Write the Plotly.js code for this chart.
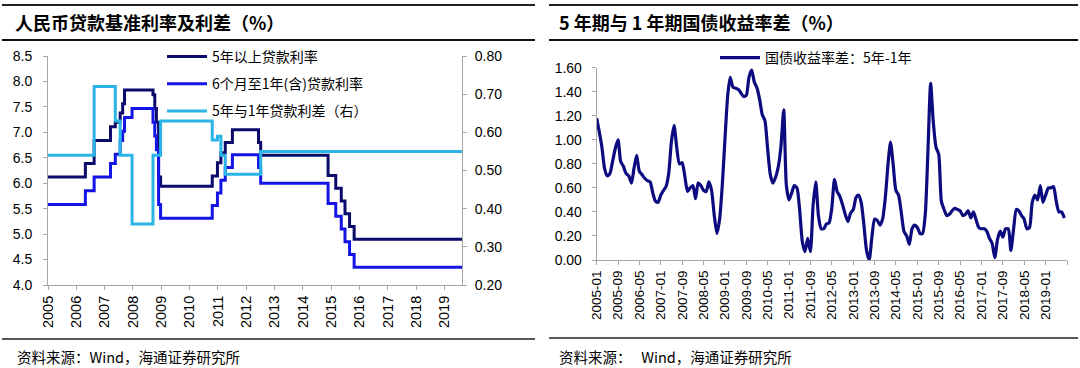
<!DOCTYPE html>
<html>
<head>
<meta charset="utf-8">
<script src="https://cdn.plot.ly/plotly-3.0.1.min.js"></script>
<style>
html,body{margin:0;padding:0;background:#fff;}
#chart{width:1080px;height:368px;}
</style>
</head>
<body>
<div id="chart"></div>
<script>
// ---------- Left chart: benchmark loan rates (step changes) ----------
const rate5yDates = ['2005-01-01','2006-04-28','2006-08-19','2007-03-18','2007-05-19','2007-07-21','2007-08-22','2007-09-15','2008-09-16','2008-10-09','2008-10-30','2008-11-27','2008-12-23','2010-10-20','2010-12-26','2011-02-09','2011-04-06','2011-07-07','2012-06-08','2012-07-06','2014-11-22','2015-03-01','2015-05-11','2015-06-28','2015-08-26','2015-10-24','2019-08-15'];
const rate5yValues = [6.12,6.39,6.84,7.11,7.20,7.38,7.56,7.83,7.74,7.47,7.20,6.12,5.94,6.14,6.40,6.60,6.80,7.05,6.80,6.55,6.15,5.90,5.65,5.40,5.15,4.90,4.90];

const rate1yDates = ['2005-01-01','2006-04-28','2006-08-19','2007-03-18','2007-05-19','2007-07-21','2007-08-22','2007-09-15','2007-12-21','2008-09-16','2008-10-09','2008-10-30','2008-11-27','2008-12-23','2010-10-20','2010-12-26','2011-02-09','2011-04-06','2011-07-07','2012-06-08','2012-07-06','2014-11-22','2015-03-01','2015-05-11','2015-06-28','2015-08-26','2015-10-24','2019-08-15'];
const rate1yValues = [5.58,5.85,6.12,6.39,6.57,6.84,7.02,7.29,7.47,7.20,6.93,6.66,5.58,5.31,5.56,5.81,6.06,6.31,6.56,6.31,6.00,5.60,5.35,5.10,4.85,4.60,4.35,4.35];

const spreadDates = ['2005-01-01','2006-08-19','2007-05-19','2007-07-21','2007-12-21','2008-09-16','2008-12-23','2010-10-20','2010-12-26','2011-02-09','2011-04-06','2012-07-06','2019-08-15'];
const spreadValues = [0.54,0.72,0.63,0.54,0.36,0.54,0.63,0.58,0.59,0.54,0.49,0.55,0.55];

const leftYears = ['2005','2006','2007','2008','2009','2010','2011','2012','2013','2014','2015','2016','2017','2018','2019'];
const leftNames = ['5年以上贷款利率','6个月至1年(含)贷款利率','5年与1年贷款利差（右）'];

// ---------- Right chart: 5Y - 1Y treasury yield spread, monthly from 2005-01 ----------
const bondStart = '2005-01';
const bondSpread = [
1.18,1.06,0.94,0.76,0.70,0.72,0.82,0.93,1.00,0.82,0.78,0.72,
0.70,0.64,0.76,0.87,0.74,0.71,0.68,0.66,0.65,0.56,0.49,0.48,
0.54,0.58,0.61,0.72,0.98,1.12,0.94,0.80,0.81,0.70,0.57,0.60,
0.62,0.51,0.64,0.62,0.58,0.57,0.65,0.58,0.37,0.22,0.34,0.62,
1.01,1.37,1.52,1.44,1.43,1.42,1.39,1.36,1.37,1.52,1.58,1.48,
1.43,1.33,1.21,1.16,0.93,0.71,0.64,0.69,0.78,0.95,1.25,0.62,
0.50,0.56,0.62,0.60,0.42,0.15,0.07,0.18,0.07,0.45,0.65,0.37,
0.26,0.26,0.30,0.31,0.43,0.67,0.57,0.53,0.46,0.38,0.32,0.39,
0.42,0.52,0.54,0.48,0.30,0.08,0.00,0.19,0.34,0.33,0.29,0.34,
0.52,0.80,0.98,0.79,0.58,0.54,0.40,0.24,0.20,0.13,0.26,0.29,
0.27,0.22,0.22,0.38,0.90,1.47,1.15,0.94,0.88,0.49,0.42,0.37,
0.38,0.41,0.43,0.42,0.41,0.37,0.38,0.41,0.35,0.40,0.33,0.27,
0.26,0.26,0.24,0.18,0.14,0.02,0.17,0.24,0.19,0.26,0.26,0.08,
0.26,0.42,0.41,0.37,0.34,0.26,0.27,0.48,0.54,0.50,0.62,0.48,
0.54,0.60,0.60,0.61,0.49,0.40,0.40,0.35
];
const bondTickLabels = ['2005-01','2005-09','2006-05','2007-01','2007-09','2008-05','2009-01','2009-09','2010-05','2011-01','2011-09','2012-05','2013-01','2013-09','2014-05','2015-01','2015-09','2016-05','2017-01','2017-09','2018-05','2019-01'];
const bondName = '国债收益率差：5年-1年';

// month dates for the right series
const bondDates = bondSpread.map((v, i) => {
  const y0 = parseInt(bondStart.slice(0,4)), m0 = parseInt(bondStart.slice(5,7)) - 1;
  const t = m0 + i;
  const y = y0 + Math.floor(t / 12), m = (t % 12) + 1;
  return y + '-' + String(m).padStart(2,'0') + '-01';
});

const W = 1080, H = 368;
const px = x => x / W;
const py = y => 1 - y / H;

const FONT = 'Liberation Sans, Arial, Noto Sans CJK SC, sans-serif';
const CJK = 'Noto Sans CJK SC, Liberation Sans, sans-serif';
const AX = '#a6a6a6';

const traces = [
  {x: rate5yDates, y: rate5yValues, name: leftNames[0], type: 'scatter', mode: 'lines',
   line: {shape: 'hv', color: '#0b0b6b', width: 3}, xaxis: 'x', yaxis: 'y', legend: 'legend', legendgroup: 'a'},
  {x: rate1yDates, y: rate1yValues, name: leftNames[1], type: 'scatter', mode: 'lines',
   line: {shape: 'hv', color: '#1414e6', width: 3}, xaxis: 'x', yaxis: 'y', legend: 'legend', legendgroup: 'b'},
  {x: spreadDates, y: spreadValues, name: leftNames[2], type: 'scatter', mode: 'lines',
   line: {shape: 'hv', color: '#2bb4e6', width: 3}, xaxis: 'x', yaxis: 'y2', legend: 'legend', legendgroup: 'c'},
  {x: bondDates, y: bondSpread, name: bondName, type: 'scatter', mode: 'lines',
   line: {shape: 'spline', smoothing: 0.6, color: '#0c0c80', width: 3.2}, xaxis: 'x2', yaxis: 'y3', legend: 'legend2'}
];

const axisCommon = {
  showgrid: false, zeroline: false, showline: true, linecolor: AX, linewidth: 1,
  ticks: 'outside', ticklen: 4, tickcolor: AX, tickwidth: 1,
  tickfont: {family: FONT, size: 14, color: '#000'}
};

const layout = {
  width: W, height: H,
  margin: {l: 0, r: 0, t: 0, b: 0},
  paper_bgcolor: '#fff', plot_bgcolor: '#fff',
  showlegend: true,
  xaxis: Object.assign({}, axisCommon, {
    domain: [px(48), px(462)], anchor: 'y', type: 'date',
    range: ['2005-01-01', '2019-08-15'],
    tickvals: leftYears.map(y => y + '-01-01'), ticktext: leftYears,
    tickangle: -90, tickfont: {family: FONT, size: 14.5, color: '#000'}
  }),
  yaxis: Object.assign({}, axisCommon, {
    domain: [py(285), py(56)], anchor: 'x', ticklabelstandoff: 8,
    range: [4.0, 8.5], tickvals: [4.0,4.5,5.0,5.5,6.0,6.5,7.0,7.5,8.0,8.5], tickformat: '.1f'
  }),
  yaxis2: Object.assign({}, axisCommon, {
    overlaying: 'y', side: 'right', anchor: 'x', ticklabelstandoff: 5,
    range: [0.2, 0.8], tickvals: [0.2,0.3,0.4,0.5,0.6,0.7,0.8], tickformat: '.2f'
  }),
  xaxis2: Object.assign({}, axisCommon, {
    domain: [px(596.7), px(1067)], anchor: 'y3', type: 'date',
    range: ['2005-01-01', '2019-09-01'],
    tickvals: bondTickLabels.map(s => s + '-01').concat(['2019-09-01']),
    ticktext: bondTickLabels.concat(['']),
    tickangle: -90, tickfont: {family: FONT, size: 13.5, color: '#000'}
  }),
  yaxis3: Object.assign({}, axisCommon, {
    domain: [py(260), py(67.7)], anchor: 'x2', ticklabelstandoff: 7,
    range: [0, 1.6], tickvals: [0,0.2,0.4,0.6,0.8,1.0,1.2,1.4,1.6], tickformat: '.2f'
  }),
  legend: {
    x: px(162), y: py(41), xanchor: 'left', yanchor: 'top',
    bgcolor: 'rgba(0,0,0,0)', borderwidth: 0,
    font: {family: CJK, size: 14, color: '#000'},
    traceorder: 'grouped', tracegroupgap: 6, itemwidth: 40
  },
  legend2: {
    x: px(715), y: py(42), xanchor: 'left', yanchor: 'top',
    bgcolor: 'rgba(0,0,0,0)', borderwidth: 0,
    font: {family: CJK, size: 14, color: '#000'}, itemwidth: 40
  },
  shapes: [
    {type: 'line', xref: 'paper', yref: 'paper', x0: px(2), x1: px(535), y0: py(5), y1: py(5), line: {color: '#222', width: 2}},
    {type: 'line', xref: 'paper', yref: 'paper', x0: px(549), x1: px(1078), y0: py(5), y1: py(5), line: {color: '#222', width: 2}},
    {type: 'line', xref: 'paper', yref: 'paper', x0: px(2), x1: px(535), y0: py(40), y1: py(40), line: {color: '#111', width: 2}},
    {type: 'line', xref: 'paper', yref: 'paper', x0: px(549), x1: px(1078), y0: py(40), y1: py(40), line: {color: '#111', width: 2}},
    {type: 'line', xref: 'paper', yref: 'paper', x0: px(2), x1: px(535), y0: py(339), y1: py(339), line: {color: '#222', width: 1.5}},
    {type: 'line', xref: 'paper', yref: 'paper', x0: px(549), x1: px(1078), y0: py(338), y1: py(338), line: {color: '#222', width: 1.5}}
  ],
  annotations: [
    {xref: 'paper', yref: 'paper', x: px(13), y: py(22), xanchor: 'left', yanchor: 'middle', showarrow: false,
     text: '<b>人民币贷款基准利率及利差（%）</b>', font: {family: CJK, size: 18, color: '#000'}},
    {xref: 'paper', yref: 'paper', x: px(557), y: py(22), xanchor: 'left', yanchor: 'middle', showarrow: false,
     text: '<b>5 年期与 1 年期国债收益率差（%）</b>', font: {family: CJK, size: 18, color: '#000'}},
    {xref: 'paper', yref: 'paper', x: px(15), y: py(356), xanchor: 'left', yanchor: 'middle', showarrow: false,
     text: '资料来源：Wind，海通证券研究所', font: {family: CJK, size: 14.5, color: '#000'}},
    {xref: 'paper', yref: 'paper', x: px(557), y: py(356), xanchor: 'left', yanchor: 'middle', showarrow: false,
     text: '资料来源：   Wind，海通证券研究所', font: {family: CJK, size: 14.5, color: '#000'}}
  ]
};

Plotly.newPlot('chart', traces, layout, {displayModeBar: false, staticPlot: true});
</script>
</body>
</html>
